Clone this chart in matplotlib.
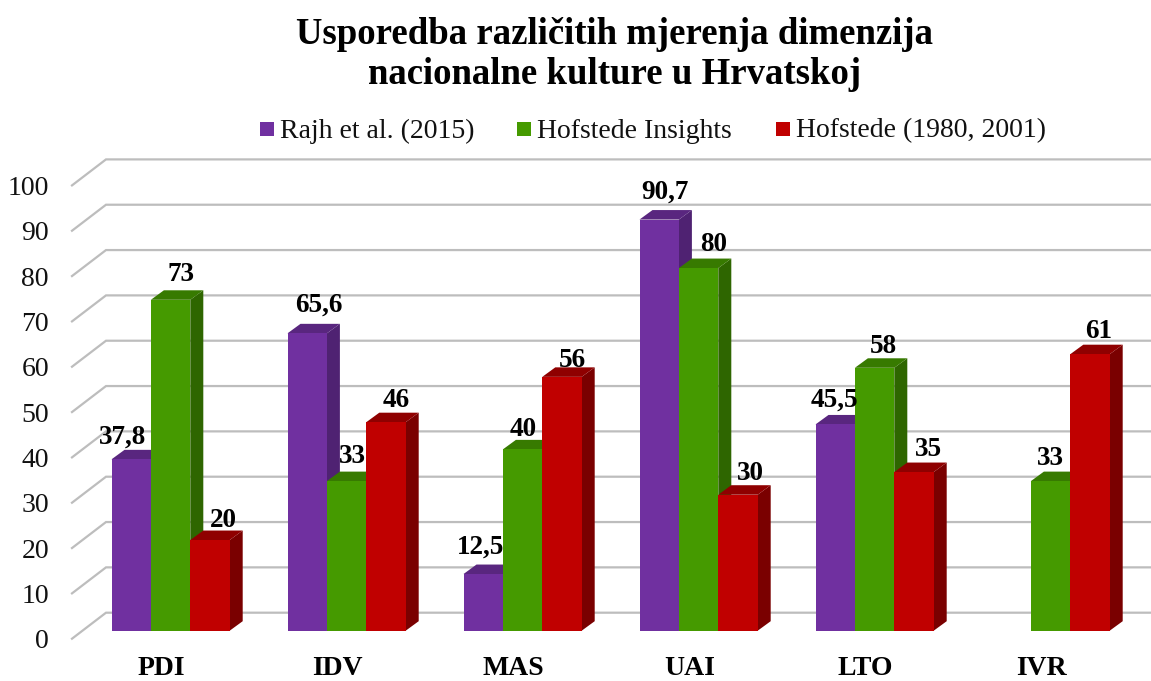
import matplotlib
matplotlib.use("Agg")
import matplotlib.pyplot as plt
import numpy as np
from matplotlib.patches import Polygon, Rectangle

categories = ["PDI", "IDV", "MAS", "UAI", "LTO", "IVR"]
series_names = ["Rajh et al. (2015)", "Hofstede Insights", "Hofstede (1980, 2001)"]
rajh = [37.8, 65.6, 12.5, 90.7, 45.5, np.nan]
insights = [73, 33, 40, 80, 58, 33]
hofstede = [20, 46, 56, 30, 35, 61]
yticks = list(range(0, 101, 10))

# front / top / side colours per series
face_colors = ["#7030A0", "#459A00", "#C00000"]
top_colors = ["#59267F", "#377A00", "#8F0000"]
side_colors = ["#4F2272", "#2E6600", "#7A0000"]
grid_color = "#BDBDBD"

# nudges (px) of the value labels, as placed by hand in the original
label_nudge_x = [
    [-9, 12, -3, 6, -1, 0],
    [10, 6, 1, 15, 9, 0],
    [13, 10, 10, 12, 14, 9],
]
label_nudge_y = [
    [0, 6, 5, 5, 2, 0],
    [3, 2, -2, 1, -1, 0],
    [-3, -1, -6, -1, 0, 0],
]

W, H = 1151, 681
PX_X = 176.0  # px per category
PX_Y = 4.533  # px per value unit
X0, Y0 = 170.6, 630.7  # pixel of category 0 / value 0

plt.rcParams["font.family"] = ["Liberation Serif", "DejaVu Serif"]

fig = plt.figure(figsize=(W / 100, H / 100), dpi=100)
ax = fig.add_axes([0, 0, 1, 1])
ax.set_xlim(-X0 / PX_X, (W - X0) / PX_X)
ax.set_ylim((Y0 - H) / PX_Y, Y0 / PX_Y)
ax.axis("off")

bar_w = 39.4 / PX_X
dx = 13 / PX_X
dy = 9.5 / PX_Y

# gridlines: slanted floor edge then the back wall
wall_x = (106 - X0) / PX_X
front_x = (72 - X0) / PX_X
wall_dy = 18 / PX_Y
front_dy = -8 / PX_Y
for v in yticks:
    ax.plot([front_x, wall_x, ax.get_xlim()[1]],
            [v + front_dy, v + wall_dy, v + wall_dy],
            color=grid_color, lw=1.6, zorder=1, solid_joinstyle="miter")
    ax.text((49 - X0) / PX_X, v + front_dy - 3 / PX_Y, str(v), ha="right", va="center",
            fontsize=20, color="#111111")

for s, values in enumerate([rajh, insights, hofstede]):
    for i, v in enumerate(values):
        if np.isnan(v):
            continue
        left = i + (s - 1.5) * bar_w
        right = left + bar_w
        z = 2 + i + s * 0.1
        ax.add_patch(Polygon([(right, 0), (right + dx, dy), (right + dx, v + dy), (right, v)],
                             fc=side_colors[s], ec="none", zorder=z))
        ax.add_patch(Polygon([(left, v), (left + dx, v + dy), (right + dx, v + dy), (right, v)],
                             fc=top_colors[s], ec="none", zorder=z))
        ax.add_patch(Rectangle((left, 0), bar_w, v, fc=face_colors[s], ec="none", zorder=z + 0.01))
        label = f"{v:g}".replace(".", ",")
        ax.text(left + bar_w / 2 + label_nudge_x[s][i] / PX_X,
                v + 4.9 + label_nudge_y[s][i] / PX_Y, label,
                ha="center", va="center", fontsize=19.5, fontweight="bold",
                color="black", zorder=20)

# baseline a little high so the label box stays inside the canvas
for i, c in enumerate(categories):
    ax.text(i - 9 / PX_X, (Y0 - 675) / PX_Y, c, ha="center", va="baseline",
            fontsize=20, fontweight="bold", color="black")

# title
fig.text(615 / W, 1 - 34 / H, "Usporedba različitih mjerenja dimenzija", ha="center", va="center",
         fontsize=26.5, fontweight="bold", color="black")
fig.text(615 / W, 1 - 75 / H, "nacionalne kulture u Hrvatskoj", ha="center", va="center",
         fontsize=26.5, fontweight="bold", color="black")

# legend
legend_x = [260, 517, 776]
for name, color, lx in zip(series_names, face_colors, legend_x):
    fig.add_artist(Rectangle((lx / W, 1 - 136 / H), 14 / W, 14 / H, fc=color, ec="none",
                             transform=fig.transFigure))
    fig.text((lx + 20) / W, 1 - 131 / H, name, ha="left", va="center",
             fontsize=20, color="#111111")

fig.savefig("out.png", dpi=100)
